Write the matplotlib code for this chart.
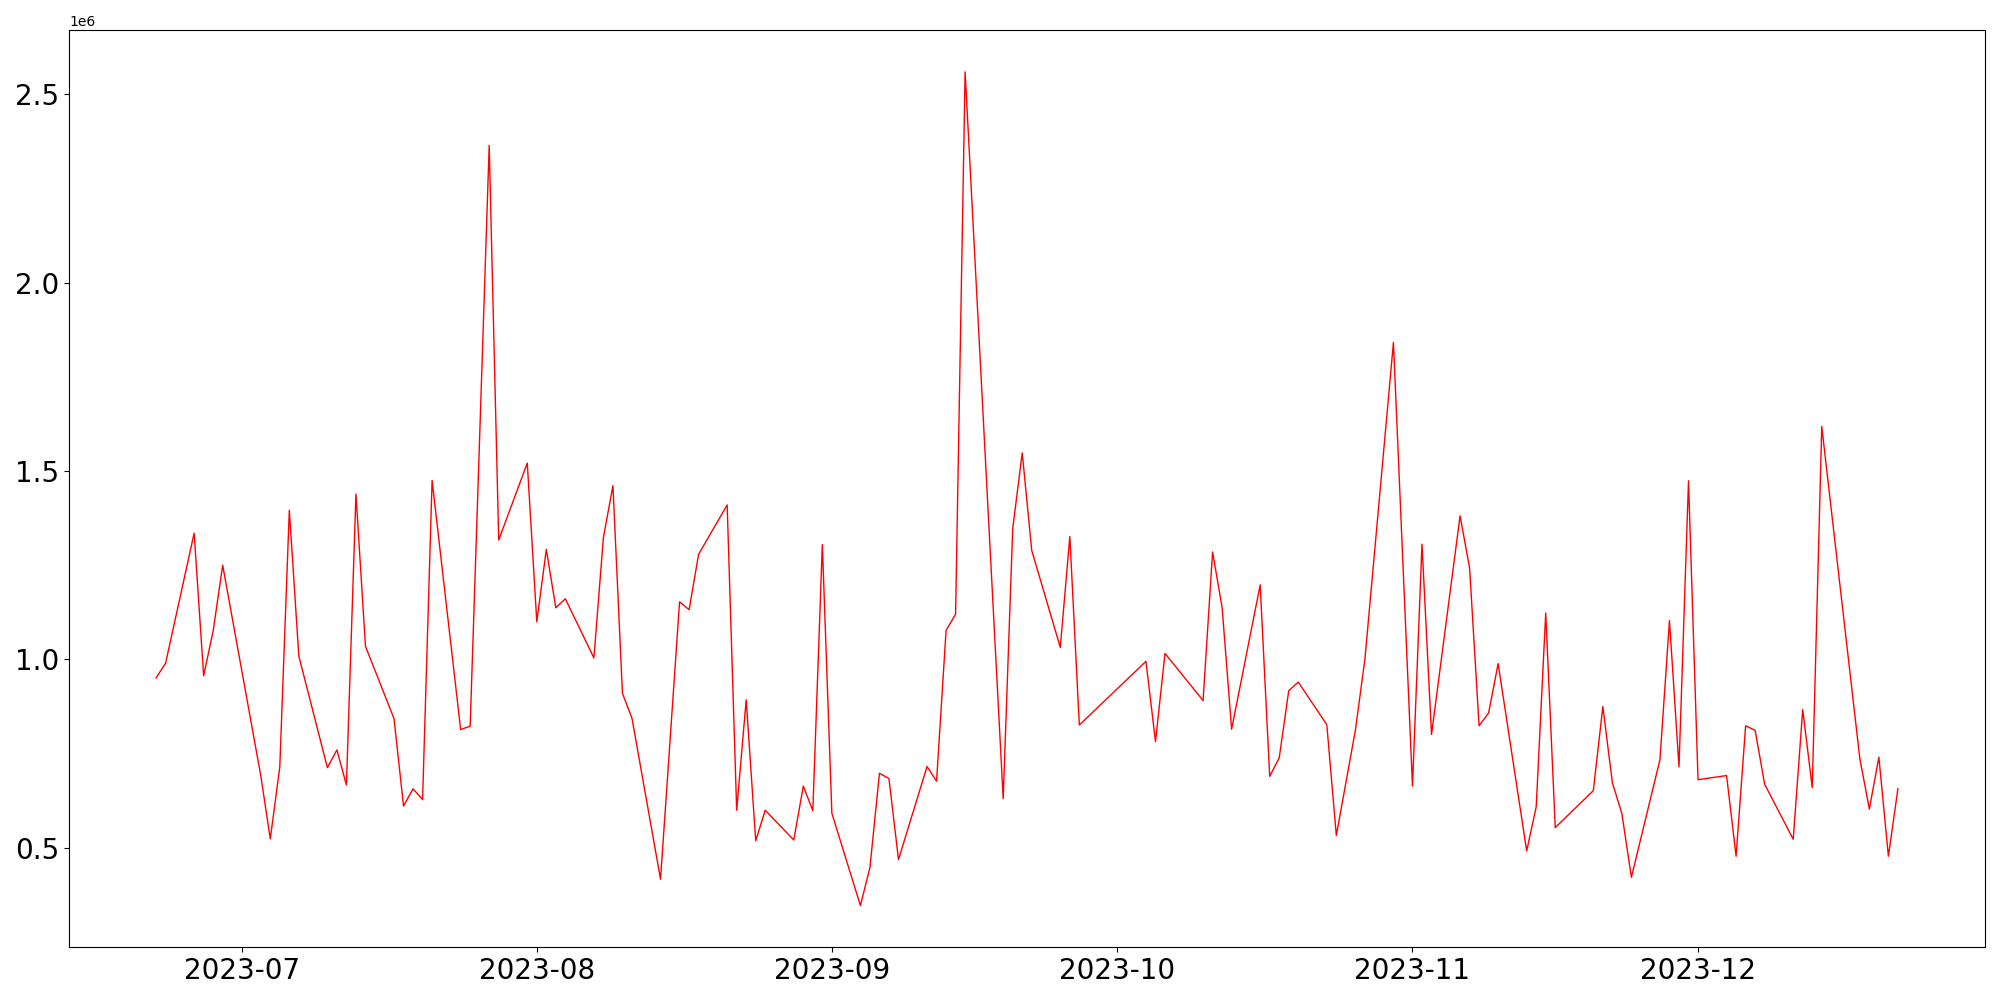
import pandas as pd
import matplotlib
matplotlib.use('Agg')
import matplotlib.pyplot as plt

# dates of the observations (trading days, gaps are missing days)
dates = ['2023-06-22', '2023-06-23', '2023-06-26', '2023-06-27', '2023-06-28', '2023-06-29',
         '2023-07-03', '2023-07-04', '2023-07-05', '2023-07-06', '2023-07-07',
         '2023-07-10', '2023-07-11', '2023-07-12', '2023-07-13', '2023-07-14',
         '2023-07-17', '2023-07-18', '2023-07-19', '2023-07-20', '2023-07-21',
         '2023-07-24', '2023-07-25', '2023-07-27', '2023-07-28',
         '2023-07-31', '2023-08-01', '2023-08-02', '2023-08-03', '2023-08-04',
         '2023-08-07', '2023-08-08', '2023-08-09', '2023-08-10', '2023-08-11',
         '2023-08-14', '2023-08-16', '2023-08-17', '2023-08-18',
         '2023-08-21', '2023-08-22', '2023-08-23', '2023-08-24', '2023-08-25',
         '2023-08-28', '2023-08-29', '2023-08-30', '2023-08-31', '2023-09-01',
         '2023-09-04', '2023-09-05', '2023-09-06', '2023-09-07', '2023-09-08',
         '2023-09-11', '2023-09-12', '2023-09-13', '2023-09-14', '2023-09-15',
         '2023-09-19', '2023-09-20', '2023-09-21', '2023-09-22',
         '2023-09-25', '2023-09-26', '2023-09-27',
         '2023-10-04', '2023-10-05', '2023-10-06',
         '2023-10-10', '2023-10-11', '2023-10-12', '2023-10-13',
         '2023-10-16', '2023-10-17', '2023-10-18', '2023-10-19', '2023-10-20',
         '2023-10-23', '2023-10-24', '2023-10-26', '2023-10-27',
         '2023-10-30', '2023-11-01', '2023-11-02', '2023-11-03',
         '2023-11-06', '2023-11-07', '2023-11-08', '2023-11-09', '2023-11-10',
         '2023-11-13', '2023-11-14', '2023-11-15', '2023-11-16',
         '2023-11-20', '2023-11-21', '2023-11-22', '2023-11-23', '2023-11-24',
         '2023-11-27', '2023-11-28', '2023-11-29', '2023-11-30', '2023-12-01',
         '2023-12-04', '2023-12-05', '2023-12-06', '2023-12-07', '2023-12-08',
         '2023-12-11', '2023-12-12', '2023-12-13', '2023-12-14',
         '2023-12-18', '2023-12-19', '2023-12-20', '2023-12-21', '2023-12-22']

# values in millions
values_m = [0.951, 0.990, 1.335, 0.957, 1.076, 1.250,
            0.692, 0.524, 0.715, 1.396, 1.009,
            0.713, 0.760, 0.667, 1.439, 1.035,
            0.843, 0.611, 0.657, 0.628, 1.475,
            0.814, 0.823, 2.364, 1.317,
            1.521, 1.100, 1.292, 1.137, 1.161,
            1.004, 1.324, 1.461, 0.910, 0.844,
            0.417, 1.153, 1.132, 1.279,
            1.410, 0.600, 0.893, 0.519, 0.600,
            0.521, 0.664, 0.599, 1.305, 0.592,
            0.347, 0.448, 0.698, 0.684, 0.469,
            0.716, 0.677, 1.077, 1.120, 2.559,
            0.631, 1.347, 1.548, 1.289,
            1.032, 1.326, 0.826,
            0.995, 0.782, 1.016,
            0.891, 1.285, 1.138, 0.815,
            1.198, 0.690, 0.739, 0.917, 0.940,
            0.827, 0.533, 0.812, 1.000,
            1.841, 0.664, 1.306, 0.801,
            1.381, 1.243, 0.824, 0.858, 0.989,
            0.492, 0.609, 1.123, 0.554,
            0.652, 0.875, 0.673, 0.591, 0.422,
            0.734, 1.103, 0.715, 1.474, 0.681,
            0.692, 0.478, 0.824, 0.812, 0.669,
            0.523, 0.867, 0.660, 1.618,
            0.737, 0.603, 0.741, 0.478, 0.657]

df = pd.DataFrame({'date': pd.to_datetime(dates), 'value': [v * 1e6 for v in values_m]})

plt.figure(figsize=(20, 10), dpi=100)
plt.plot(df['date'], df['value'], color='red', linewidth=1)
plt.xticks(fontsize=20)
plt.yticks(fontsize=20)
plt.tight_layout()
plt.savefig('out.png')
